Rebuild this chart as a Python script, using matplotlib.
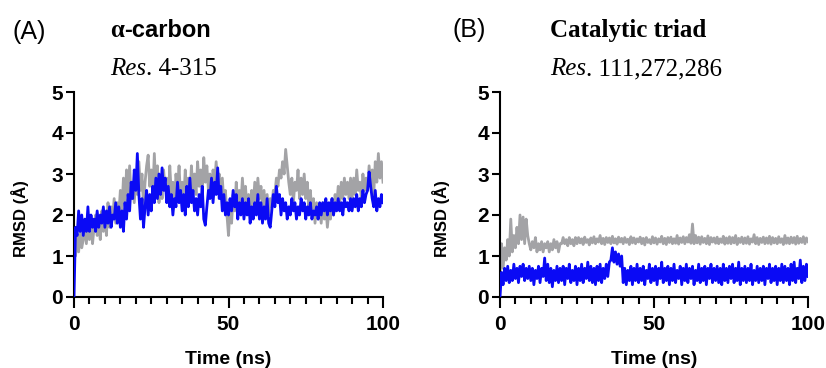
import matplotlib
matplotlib.use("Agg")
import matplotlib.pyplot as plt
import numpy as np

# time axis, 0.5 ns steps
time_ns = np.arange(0, 100.5, 0.5)

# (A) alpha-carbon RMSD, grey trace
rmsd_ca_grey = [
    1.2, 1.0, 1.5, 1.1, 1.6, 1.2, 1.4, 1.7, 1.3, 1.8,
    1.4, 1.9, 1.3, 1.7, 2.0, 1.5, 1.8, 1.4, 2.1, 1.6,
    2.0, 1.5, 2.3, 1.7, 2.2, 1.9, 2.4, 1.8, 2.3, 2.0,
    2.6, 2.1, 2.9, 2.3, 3.1, 2.5, 3.2, 2.4, 2.8, 2.3,
    2.9, 2.5, 3.3, 2.6, 3.0, 2.2, 2.8, 3.2, 3.46, 2.7,
    3.1, 2.5, 3.5, 2.6, 3.2, 2.3, 2.9, 2.4, 3.1, 2.6,
    2.9, 2.3, 3.2, 2.5, 2.8, 2.2, 3.0, 2.6, 3.2, 2.4,
    2.8, 2.3, 3.1, 2.5, 2.9, 2.4, 3.2, 2.6, 3.0, 2.5,
    3.3, 2.7, 3.1, 2.6, 3.4, 2.8, 3.2, 2.6, 3.0, 2.5,
    3.1, 2.7, 3.3, 2.8, 3.0, 2.4, 2.9, 2.3, 2.6, 2.0,
    1.5, 2.2, 1.8, 2.5, 2.1, 2.8, 2.3, 2.6, 2.2, 2.9,
    2.3, 2.7, 2.1, 2.5, 2.0, 2.6, 2.2, 2.8, 2.3, 2.9,
    2.4, 2.7, 2.2, 2.6, 2.1, 2.5, 2.0, 2.4, 2.2, 2.6,
    2.5, 2.9, 2.7, 3.1, 2.9, 3.3, 3.0, 3.6, 3.2, 2.8,
    2.5, 2.9, 2.3, 2.8, 2.6, 3.1, 2.4, 2.9, 2.5, 3.0,
    2.4, 2.8, 2.2, 2.6, 2.0, 2.4, 1.8, 2.3, 1.9, 2.2,
    1.8, 2.3, 1.9, 2.2, 1.7, 2.1, 1.9, 2.4, 2.0, 2.5,
    2.2, 2.7, 2.3, 2.8, 2.4, 2.9, 2.5, 2.8, 2.4, 2.9,
    2.4, 2.9, 2.5, 3.1, 2.6, 2.8, 2.4, 3.0, 2.6, 2.9,
    2.6, 3.2, 2.7, 3.1, 2.5, 3.3, 2.8, 3.5, 2.9, 3.3,
    2.8,
]

# (A) alpha-carbon RMSD, blue trace
rmsd_ca_blue = [
    0.0, 1.7, 1.5, 2.1, 1.6, 2.0, 1.5, 1.9, 1.6, 2.2,
    1.6, 2.0, 1.7, 1.9, 1.6, 2.1, 1.7, 2.0, 1.8, 2.2,
    1.7, 2.1, 1.8, 2.2, 1.7, 2.0, 1.9, 2.3, 1.8, 2.2,
    1.7, 2.1, 1.6, 2.3, 1.9, 2.5, 2.1, 2.8, 2.4, 3.1,
    2.6, 3.5, 2.5, 1.9, 2.4, 1.7, 2.2, 2.6, 2.0, 2.5,
    2.1, 2.7, 2.3, 2.9, 2.4, 3.0, 2.5, 3.15, 2.6, 2.9,
    2.3, 2.7, 2.2, 2.5, 2.0, 2.4, 2.2, 2.8, 2.3, 2.6,
    2.1, 2.5, 2.0, 2.7, 2.2, 2.9, 2.3, 2.6, 2.1, 2.4,
    2.0, 2.5, 2.2, 2.7, 1.9, 1.75, 2.2, 2.6, 2.4, 2.9,
    2.3, 2.8, 2.5, 3.15, 2.4, 2.7, 2.1, 2.5, 2.0, 2.3,
    2.0, 2.4, 2.1, 2.6, 2.2, 2.5, 1.9, 2.3, 2.0, 2.4,
    1.9, 2.3, 2.0, 2.4, 1.8, 2.2, 1.9, 2.3, 2.0, 2.5,
    1.9, 2.3, 1.8, 2.2, 1.9, 2.4, 1.8, 1.7, 2.1, 2.5,
    2.2, 2.7, 2.3, 2.5, 2.0, 2.4, 2.1, 2.3, 1.9, 2.2,
    2.0, 2.4, 2.1, 2.3, 1.9, 2.2, 2.0, 2.4, 2.1, 2.3,
    1.9, 2.2, 2.0, 2.3, 1.9, 2.1, 2.0, 2.2, 1.9, 2.3,
    2.0, 2.3, 2.1, 2.4, 2.0, 2.3, 2.1, 2.4, 2.0, 2.3,
    2.1, 2.4, 2.1, 2.3, 2.0, 2.4, 2.2, 2.3, 2.1, 2.4,
    2.1, 2.4, 2.2, 2.5, 2.1, 2.4, 2.2, 2.6, 2.3, 2.5,
    2.6, 3.05, 2.7, 2.4, 2.2, 2.6, 2.1, 2.4, 2.2, 2.5,
    2.3,
]

# (B) catalytic triad RMSD, grey trace
rmsd_triad_grey = [
    0.55, 1.3, 0.7, 1.2, 0.9, 1.4, 1.0, 1.9, 1.1, 1.5,
    1.2, 1.7, 1.3, 2.0, 1.4, 1.95, 1.3, 1.9, 1.5, 1.3,
    1.15, 1.35, 1.2, 1.45, 1.1, 1.3, 1.15, 1.35, 1.1, 1.3,
    1.2, 1.35, 1.1, 1.3, 1.15, 1.4, 1.2, 1.35, 1.1, 1.3,
    1.3, 1.45, 1.3, 1.4, 1.25, 1.45, 1.3, 1.4, 1.25, 1.45,
    1.3, 1.45, 1.32, 1.42, 1.28, 1.46, 1.33, 1.4, 1.27, 1.44,
    1.32, 1.47, 1.3, 1.42, 1.34, 1.5, 1.3, 1.43, 1.28, 1.45,
    1.33, 1.44, 1.3, 1.48, 1.32, 1.42, 1.29, 1.46, 1.34, 1.43,
    1.3, 1.45, 1.33, 1.41, 1.28, 1.47, 1.32, 1.44, 1.3, 1.42,
    1.34, 1.46, 1.3, 1.43, 1.27, 1.45, 1.33, 1.4, 1.3, 1.47,
    1.32, 1.44, 1.29, 1.42, 1.34, 1.48, 1.3, 1.43, 1.28, 1.45,
    1.33, 1.46, 1.3, 1.42, 1.31, 1.5, 1.29, 1.44, 1.33, 1.47,
    1.3, 1.45, 1.34, 1.52, 1.31, 1.78, 1.3, 1.5, 1.32, 1.46,
    1.29, 1.47, 1.33, 1.43, 1.3, 1.49, 1.28, 1.45, 1.34, 1.44,
    1.31, 1.46, 1.3, 1.42, 1.33, 1.48, 1.29, 1.44, 1.31, 1.47,
    1.3, 1.45, 1.32, 1.5, 1.28, 1.43, 1.33, 1.46, 1.3, 1.44,
    1.31, 1.47, 1.29, 1.42, 1.34, 1.52, 1.3, 1.45, 1.28, 1.43,
    1.33, 1.46, 1.3, 1.44, 1.31, 1.48, 1.29, 1.45, 1.32, 1.43,
    1.3, 1.47, 1.33, 1.42, 1.28, 1.5, 1.31, 1.44, 1.3, 1.46,
    1.32, 1.45, 1.29, 1.48, 1.31, 1.43, 1.33, 1.47, 1.3, 1.44,
    1.35,
]

# (B) catalytic triad RMSD, blue trace
rmsd_triad_blue = [
    0.0, 0.6, 0.3, 0.7, 0.4, 0.75, 0.35, 0.65, 0.4, 0.8,
    0.45, 0.7, 0.35, 0.75, 0.5, 0.8, 0.4, 0.7, 0.45, 0.75,
    0.4, 0.7, 0.3, 0.65, 0.45, 0.75, 0.35, 0.7, 0.5, 0.95,
    0.4, 0.8, 0.35, 0.7, 0.25, 0.65, 0.4, 0.75, 0.35, 0.7,
    0.4, 0.75, 0.3, 0.7, 0.45, 0.8, 0.35, 0.65, 0.4, 0.75,
    0.3, 0.7, 0.4, 0.8, 0.35, 0.7, 0.45, 0.85, 0.4, 0.75,
    0.35, 0.7, 0.3, 0.75, 0.4, 0.8, 0.35, 0.7, 0.45, 0.8,
    0.5, 0.85, 0.9, 1.2, 0.85, 1.1, 0.8, 1.05, 0.75, 1.0,
    0.35, 0.7, 0.3, 0.65, 0.4, 0.75, 0.3, 0.7, 0.4, 0.8,
    0.35, 0.7, 0.4, 0.75, 0.3, 0.65, 0.45, 0.8, 0.35, 0.7,
    0.4, 0.75, 0.3, 0.7, 0.45, 0.85, 0.35, 0.7, 0.4, 0.75,
    0.3, 0.7, 0.4, 0.8, 0.35, 0.65, 0.45, 0.75, 0.3, 0.7,
    0.4, 0.8, 0.35, 0.7, 0.45, 0.75, 0.3, 0.65, 0.4, 0.8,
    0.35, 0.7, 0.4, 0.75, 0.3, 0.7, 0.45, 0.8, 0.35, 0.7,
    0.4, 0.75, 0.35, 0.7, 0.3, 0.8, 0.4, 0.7, 0.35, 0.75,
    0.45, 0.8, 0.35, 0.7, 0.4, 0.85, 0.3, 0.7, 0.4, 0.75,
    0.35, 0.7, 0.4, 0.8, 0.3, 0.65, 0.4, 0.75, 0.35, 0.7,
    0.4, 0.75, 0.3, 0.7, 0.45, 0.8, 0.35, 0.7, 0.4, 0.75,
    0.3, 0.7, 0.4, 0.8, 0.35, 0.75, 0.4, 0.7, 0.3, 0.8,
    0.4, 0.85, 0.35, 0.7, 0.45, 0.9, 0.35, 0.75, 0.4, 0.8,
    0.5,
]

GREY = "#a3a3a6"
BLUE = "#0a0af5"
SANS = "Liberation Sans"
SERIF = "Liberation Serif"

plt.rcParams["font.family"] = SANS


def style_axis(ax):
    for side in ("top", "right"):
        ax.spines[side].set_visible(False)
    for side in ("left", "bottom"):
        ax.spines[side].set_linewidth(1.5)
    ax.set_xlim(0, 100)
    ax.set_ylim(0, 5)
    ax.set_xticks([0, 50, 100])
    ax.set_xticks(np.arange(0, 101, 5), minor=True)
    ax.set_yticks(range(0, 6))
    ax.tick_params(axis="x", which="major", length=8, width=1.5, pad=5, labelsize=15)
    ax.tick_params(axis="x", which="minor", length=5, width=1.5)
    ax.tick_params(axis="y", which="major", length=6, width=1.5, pad=2, labelsize=15)
    for lbl in ax.get_xticklabels() + ax.get_yticklabels():
        lbl.set_fontweight("bold")
    ax.set_xlabel("Time (ns)", fontsize=14, fontweight="bold", labelpad=12)
    ax.set_ylabel("RMSD (Å)", fontsize=12, fontweight="bold")


def res_label(x, y, rest):
    # italic "Res" in serif, then the residue numbers upright right after it
    t = fig.text(x, y, "Res", fontsize=18, family=SERIF, style="italic", va="baseline")
    fig.add_artist(plt.Annotation(rest, xy=(1, 0), xycoords=t, fontsize=18,
                                  family=SERIF, va="bottom"))


fig = plt.figure(figsize=(8.26, 3.68), dpi=100)
ax_a = fig.add_axes([74 / 826, 71 / 368, 309 / 826, 205 / 368])
ax_b = fig.add_axes([500 / 826, 71 / 368, 308 / 826, 205 / 368])

ax_a.plot(time_ns, rmsd_ca_grey, color=GREY, lw=2.0, zorder=2)
ax_a.plot(time_ns, rmsd_ca_blue, color=BLUE, lw=2.0, zorder=3)
ax_b.plot(time_ns, rmsd_triad_grey, color=GREY, lw=2.0, zorder=2)
ax_b.plot(time_ns, rmsd_triad_blue, color=BLUE, lw=2.0, zorder=3)

for ax in (ax_a, ax_b):
    style_axis(ax)
ax_a.yaxis.set_label_coords(-0.146, 0.385)
ax_b.yaxis.set_label_coords(-0.162, 0.385)

# panel headers
fig.text(12 / 826, 1 - 39 / 368, "(A)", fontsize=18, family=SANS, va="baseline")
t_alpha = fig.text(110 / 826, 1 - 37 / 368, "α", fontsize=18, family=SERIF,
                   fontweight="bold", va="baseline")
fig.add_artist(plt.Annotation("-carbon", xy=(1, 0), xycoords=t_alpha, fontsize=17,
                              family=SANS, fontweight="bold", va="bottom"))
res_label(110 / 826, 1 - 75 / 368, ". 4-315")

fig.text(453 / 826, 1 - 37 / 368, "(B)", fontsize=18, family=SANS, va="baseline")
fig.text(550 / 826, 1 - 37 / 368, "Catalytic triad", fontsize=18, family=SERIF,
         fontweight="bold", va="baseline")
res_label(550 / 826, 1 - 75 / 368, ". 111,272,286")

fig.savefig("out.png", dpi=100)
